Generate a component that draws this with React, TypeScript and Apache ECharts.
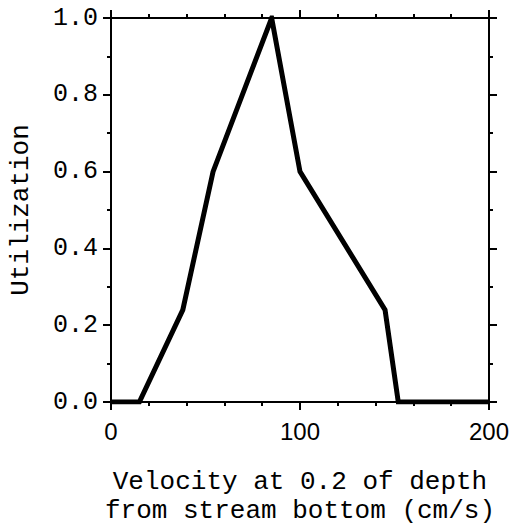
import React, { useEffect, useRef } from "react";
import * as echarts from "echarts";

const velocity = [0, 15, 38, 54, 85, 100, 145, 152, 200];
const utilization = [0, 0, 0.24, 0.6, 1.0, 0.6, 0.24, 0, 0];
const xTitle = "Velocity at 0.2 of depth\nfrom stream bottom (cm/s)";
const yTitle = "Utilization";

export default function App() {
  const ref = useRef<HTMLDivElement>(null);
  useEffect(() => {
    const chart = echarts.init(ref.current!, null, { renderer: "svg" });
    const axisLine = { show: true, onZero: false, lineStyle: { color: "#000", width: 2 } };
    const tick = { show: true, inside: false, length: 8, lineStyle: { color: "#000", width: 2 } };
    const mono = "'Liberation Mono', 'DejaVu Sans Mono', monospace";
    chart.setOption({
      animation: false,
      backgroundColor: "#fff",
      grid: { left: 108, right: 33, top: 18, bottom: 129 },
      xAxis: [
        {
          type: "value",
          min: 0,
          max: 200,
          interval: 100,
          position: "bottom",
          axisLine,
          axisTick: tick,
          minorTick: { show: true, splitNumber: 5, length: 4, lineStyle: { color: "#000", width: 2 } },
          splitLine: { show: false },
          axisLabel: {
            color: "#000",
            fontSize: 24,
            fontFamily: "'Liberation Sans', Arial, sans-serif",
            margin: 17,
          },
          name: xTitle,
          nameLocation: "middle",
          nameGap: 65,
          nameTextStyle: {
            color: "#000",
            fontSize: 26,
            fontFamily: mono,
            lineHeight: 29,
            align: "center",
          },
        },
        {
          type: "value",
          min: 0,
          max: 200,
          interval: 100,
          position: "top",
          axisLine,
          axisTick: tick,
          minorTick: { show: true, splitNumber: 5, length: 4, lineStyle: { color: "#000", width: 2 } },
          splitLine: { show: false },
          axisLabel: { show: false },
        },
      ],
      yAxis: [
        {
          type: "value",
          min: 0,
          max: 1,
          interval: 0.2,
          position: "left",
          axisLine,
          axisTick: tick,
          minorTick: { show: true, splitNumber: 2, length: 4, lineStyle: { color: "#000", width: 2 } },
          splitLine: { show: false },
          axisLabel: {
            color: "#000",
            fontSize: 25,
            fontFamily: mono,
            margin: 13,
            formatter: (v: number) => v.toFixed(1),
          },
          name: yTitle,
          nameLocation: "middle",
          nameGap: 77,
          nameRotate: 90,
          nameTextStyle: { color: "#000", fontSize: 26, fontFamily: mono },
        },
        {
          type: "value",
          min: 0,
          max: 1,
          interval: 0.2,
          position: "right",
          axisLine,
          axisTick: tick,
          minorTick: { show: true, splitNumber: 2, length: 4, lineStyle: { color: "#000", width: 2 } },
          splitLine: { show: false },
          axisLabel: { show: false },
        },
      ],
      series: [
        {
          type: "line",
          data: velocity.map((v, i) => [v, utilization[i]]),
          showSymbol: false,
          lineStyle: { color: "#000", width: 5, join: "miter" },
          z: 5,
        },
      ],
    });
    return () => chart.dispose();
  }, []);
  return (
    <div
      ref={ref}
      style={{ position: "fixed", left: 0, top: 0, width: 522, height: 531, overflow: "hidden" }}
    />
  );
}
